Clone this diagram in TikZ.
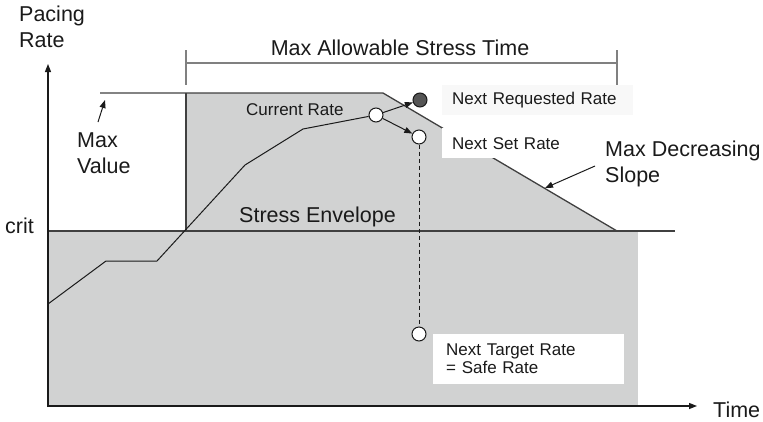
\documentclass[tikz,border=0pt]{standalone}
\usepackage{fontspec}
\setmainfont{Liberation Sans}
\usetikzlibrary{arrows.meta}
\definecolor{envgray}{HTML}{D1D2D2}
\definecolor{lc}{HTML}{404040}
\definecolor{txt}{HTML}{1A1A1A}
\definecolor{dotfill}{HTML}{555555}
\definecolor{offwhite}{HTML}{F8F8F8}
\begin{document}
\begin{tikzpicture}[x=1pt,y=-1pt,
  big/.style={font=\fontsize{21.5}{26}\selectfont, inner sep=0pt, text=txt},
  small/.style={font=\fontsize{17}{18}\selectfont, text=txt},
  ln/.style={draw=lc, line width=1.3pt},
  thinln/.style={draw=txt, line width=1pt},
  dot/.style={circle, draw=txt, fill=white, minimum size=14pt, inner sep=0pt, line width=1pt},
  tip/.style={-{Triangle[length=8pt,width=6pt]}},
  lab/.style={small, anchor=north west, align=left, inner xsep=10pt, inner ysep=0pt},
]
\useasboundingbox (0,0) rectangle (763,421);

% shaded regions
\fill[envgray] (48,231) rectangle (638,406);
\fill[envgray] (186,231) -- (186,93) -- (383,93) -- (617,231) -- cycle;

% envelope and limit lines
\coordinate (mvstart) at (100,93);
\coordinate (corner) at (383,93);
\coordinate (slopeend) at (617,231);
\coordinate (critl) at (48,231);
\coordinate (critr) at (675,231);
\coordinate (envtop) at (186,93);
\coordinate (envbot) at (186,231);
\draw[ln] (mvstart) -- (corner) -- (slopeend);
\draw[ln] (envtop) -- (envbot);
\draw[ln] (critl) -- (critr);

% axes
\coordinate (o) at (48,407);
\coordinate (ytop) at (48,64);
\coordinate (xstart) at (48,406);
\coordinate (xend) at (697,406);
\draw[ln, draw=txt, tip] (o) -- (ytop);
\draw[ln, draw=txt, tip] (xstart) -- (xend);

% bracket
\coordinate (bl1) at (186,50);
\coordinate (bl2) at (186,85);
\coordinate (br1) at (617,50);
\coordinate (br2) at (617,85);
\coordinate (bml) at (186,63);
\coordinate (bmr) at (617,63);
\draw[ln, draw=gray] (bl1) -- (bl2);
\draw[ln, draw=gray] (br1) -- (br2);
\draw[ln, draw=gray] (bml) -- (bmr);

% labels with boxes
\node[lab, fill=offwhite, minimum width=191pt, minimum height=30pt, text width=171pt] (reqlab) at (442,85) {Next Requested Rate};
\node[lab, fill=white, minimum width=153pt, minimum height=30pt, text width=133pt] (setlab) at (442,128) {Next Set Rate};
\node[lab, fill=white, inner xsep=13pt, minimum width=191pt, minimum height=50pt, text width=165pt] (tgtlab) at (433,334) {Next Target Rate\\= Safe Rate};

% rate curve
\coordinate (p0) at (48,304);
\coordinate (p1) at (106,261);
\coordinate (p2) at (157,261);
\coordinate (p3) at (245,165);
\coordinate (p4) at (303,129);
\node[dot] (cur) at (376,115) {};
\node[dot, fill=dotfill] (req) at (420,100) {};
\node[dot] (set) at (419,137) {};
\node[dot] (tgt) at (419,334) {};
\draw[thinln] (p0) -- (p1) -- (p2) -- (p3) -- (p4) -- (cur);
\draw[thinln, tip] (cur) -- (req);
\draw[thinln, tip] (cur) -- (set);
\draw[thinln, dash pattern=on 4pt off 3pt] (set) -- (tgt);

% text
\node[big, anchor=north west, align=left] (pr) at (19,6) {Pacing\\Rate};
\node[big, anchor=base] (mast) at (400,55) {Max Allowable Stress Time};
\node[big, anchor=north west, align=left] (mv) at (77,133) {Max\\Value};
\node[big, anchor=base west] (crit) at (5,233) {crit};
\node[big, anchor=base west] (se) at (239,222) {Stress Envelope};
\node[small, anchor=base west, inner sep=0pt] (cr) at (246,115) {Current Rate};
\node[big, anchor=north west, align=left] (mds) at (605,141) {Max Decreasing\\Slope};
\node[big, anchor=base west] (time) at (713,417) {Time};

% pointer arrows
\coordinate (mvt) at (98,122);
\coordinate (mvh) at (105,100);
\draw[thinln, tip] (mvt) -- (mvh);
\coordinate (mdt) at (595,166);
\coordinate (mdh) at (545,188);
\draw[thinln, tip] (mdt) -- (mdh);
\end{tikzpicture}
\end{document}
